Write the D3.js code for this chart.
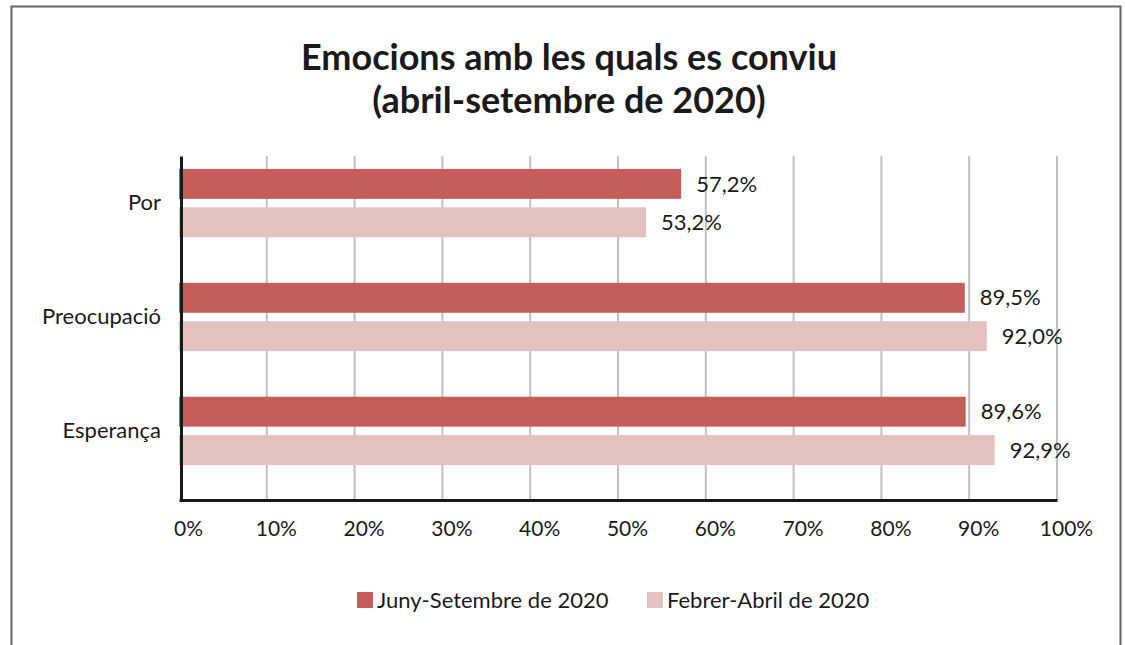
<!DOCTYPE html>
<html lang="ca">
<head>
<meta charset="UTF-8">
<title>Emocions amb les quals es conviu</title>
<script src="https://d3js.org/d3.v7.min.js"></script>
<style>
  body { margin: 0; background: #fff; font-family: Lato, "Open Sans", sans-serif; }
</style>
</head>
<body>
<div id="chart"></div>
<script>
const width = 1125;
const height = 645;

// data
const categories = ["Por", "Preocupació", "Esperança"];
const seriesNames = ["Juny-Setembre de 2020", "Febrer-Abril de 2020"];
const junySet = [57.2, 89.5, 89.6];
const febAbr = [53.2, 92.0, 92.9];
const xTicks = [0, 10, 20, 30, 40, 50, 60, 70, 80, 90, 100];
const colors = ["#c55e58", "#e3c1c1"];

const margin = { left: 179, right: 68, top: 156, bottom: 145 };

const locale = d3.formatLocale({ decimal: ",", thousands: ".", grouping: [3], currency: ["", "€"] });
const fmt = locale.format(".1f");

const svg = d3.select("#chart").append("svg")
    .attr("width", width)
    .attr("height", height);

// outer frame (no bottom edge visible)
svg.append("path")
    .attr("d", `M11.5,${height} V6.5 H1120.5 V${height}`)
    .attr("fill", "none")
    .attr("stroke", "#666")
    .attr("stroke-width", 2);

const xScale = d3.scaleLinear()
    .domain([0, 100])
    .range([margin.left, width - margin.right]);

const yScale = d3.scaleBand()
    .domain(categories)
    .range([margin.top, height - margin.bottom])
    .paddingInner(0.4)
    .paddingOuter(0.21)
    .align(0.27);

const ySub = d3.scaleBand()
    .domain(seriesNames)
    .range([0, yScale.bandwidth()])
    .paddingInner(0.22);

// title
const title = svg.append("text")
    .attr("text-anchor", "middle")
    .attr("font-size", 36)
    .attr("font-weight", "bold")
    .attr("fill", "#1a1a1a");
title.append("tspan").attr("x", 569).attr("y", 70).text("Emocions amb les quals es conviu");
title.append("tspan").attr("x", 569).attr("y", 113).text("(abril-setembre de 2020)");

// gridlines
svg.append("g")
    .selectAll("line")
    .data(xTicks.filter(d => d > 0))
    .join("line")
    .attr("x1", d => xScale(d))
    .attr("x2", d => xScale(d))
    .attr("y1", margin.top)
    .attr("y2", height - margin.bottom)
    .attr("stroke", "#c0c0c0")
    .attr("stroke-width", 2);

// bars
const series = [junySet, febAbr];
const groups = svg.append("g")
    .selectAll("g")
    .data(categories)
    .join("g")
    .attr("transform", d => `translate(0,${yScale(d)})`);

groups.selectAll("rect")
    .data((d, i) => seriesNames.map((s, j) => ({ s, j, v: series[j][i] })))
    .join("rect")
    .attr("x", xScale(0))
    .attr("y", d => ySub(d.s))
    .attr("width", d => xScale(d.v) - xScale(0))
    .attr("height", ySub.bandwidth())
    .attr("fill", d => colors[d.j]);

groups.selectAll("text")
    .data((d, i) => seriesNames.map((s, j) => ({ s, j, v: series[j][i] })))
    .join("text")
    .attr("x", d => xScale(d.v) + 15)
    .attr("y", d => ySub(d.s) + ySub.bandwidth() / 2)
    .attr("dy", "0.35em")
    .attr("font-size", 22)
    .attr("fill", "#1a1a1a")
    .text(d => fmt(d.v) + "%");

// y axis
const yAxis = svg.append("g")
    .attr("transform", `translate(${xScale(0) + 2},0)`)
    .call(d3.axisLeft(yScale).tickSize(0).tickPadding(20));
yAxis.select(".domain").attr("stroke", "#1a1a1a").attr("stroke-width", 3);
yAxis.selectAll("text").attr("font-size", 22).attr("font-family", "Lato, sans-serif").attr("fill", "#1a1a1a");

// x axis
const xAxis = svg.append("g")
    .attr("transform", `translate(0,${height - margin.bottom})`)
    .call(d3.axisBottom(xScale).tickValues(xTicks).tickSize(0).tickPadding(21).tickFormat(d => d + "%"));
xAxis.select(".domain").attr("stroke", "#1a1a1a").attr("stroke-width", 3);
xAxis.selectAll("text").attr("font-size", 21).attr("font-family", "Lato, sans-serif").attr("fill", "#1a1a1a")
    .attr("dx", 9);

// legend
const legendX = [357, 647];
const legend = svg.append("g")
    .selectAll("g")
    .data(seriesNames)
    .join("g")
    .attr("transform", (d, i) => `translate(${legendX[i]},592)`);
legend.append("rect")
    .attr("width", 16)
    .attr("height", 16)
    .attr("fill", (d, i) => colors[i]);
legend.append("text")
    .attr("x", 20)
    .attr("y", 8)
    .attr("dy", "0.35em")
    .attr("font-size", 22)
    .attr("fill", "#1a1a1a")
    .text(d => d);
</script>
</body>
</html>
